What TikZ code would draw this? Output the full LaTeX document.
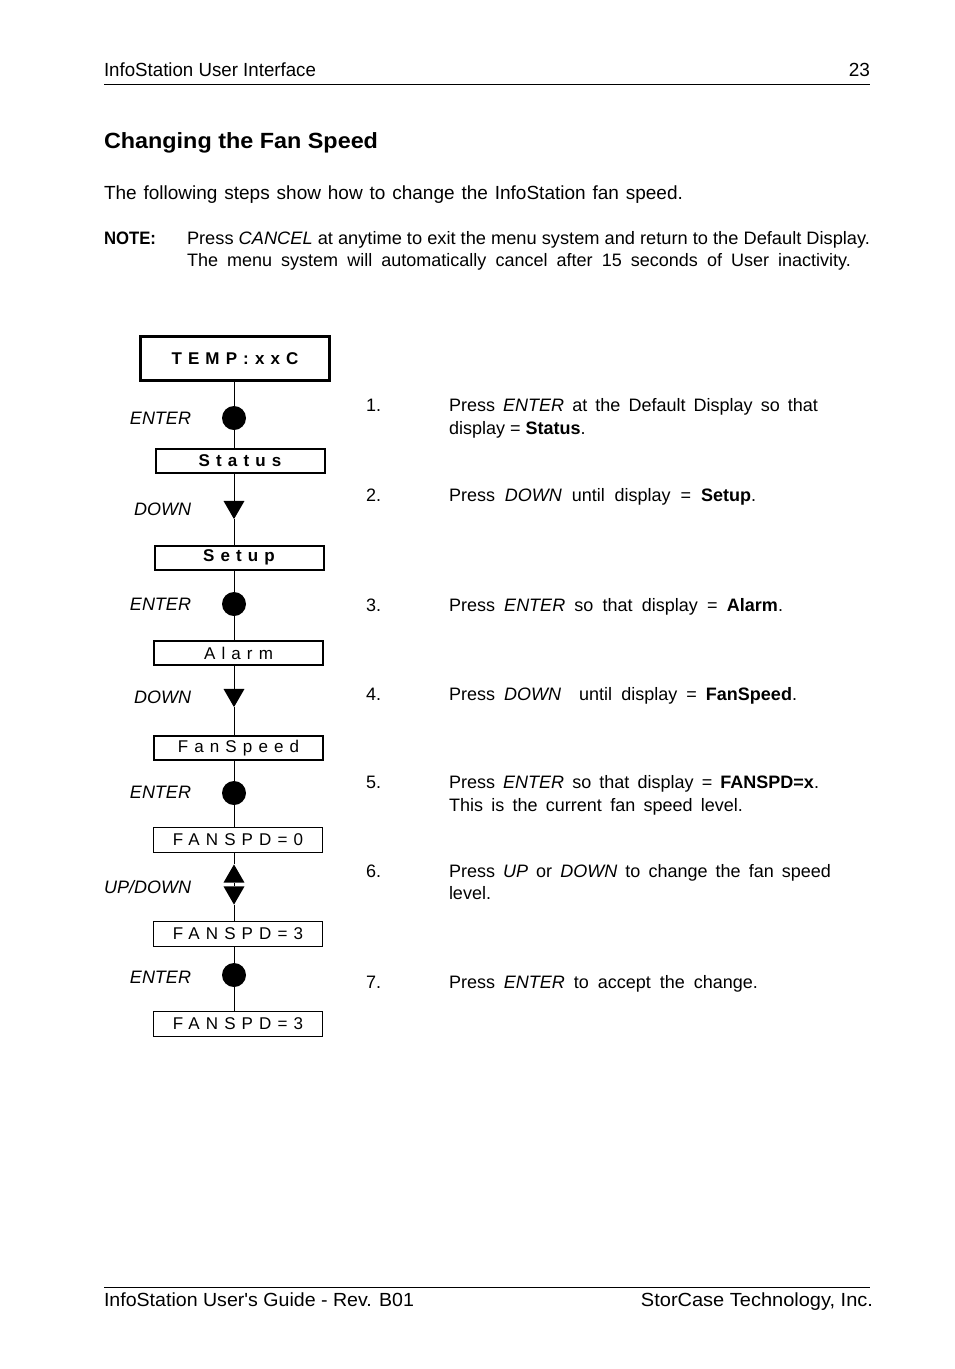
\documentclass[tikz,border=0pt]{standalone}
\usepackage{fontspec}
\setmainfont{Liberation Sans}
\newfontfamily\plainapo{Liberation Sans}
\usetikzlibrary{shapes.geometric}
\pgfdeclarelayer{bg}
\pgfsetlayers{bg,main}
\newcommand\sw[2]{\makebox[#1pt][s]{#2}}
\newcommand\fw[2]{\resizebox{#1pt}{\height}{#2}}
\begin{document}
\begin{tikzpicture}[x=1pt,y=-1pt,
  every node/.style={inner sep=0pt, outer sep=0pt},
  body/.style={anchor=base west, font=\fontsize{18}{22}\selectfont},
  page/.style={anchor=base west, font=\fontsize{19}{22}\selectfont},
  lcd/.style={draw, font=\fontsize{17}{20}\selectfont\addfontfeature{LetterSpace=36}},
  lcdbold/.style={font=\fontsize{17}{20}\selectfont\bfseries\addfontfeature{LetterSpace=36}},
  lcdA/.style={lcd, line width=3pt, minimum height=44pt, minimum width=189pt},
  lcdB/.style={lcd, line width=2pt, minimum height=24pt, minimum width=169pt},
  lcdC/.style={lcd, line width=1pt, minimum height=25pt, minimum width=169pt},
  key/.style={anchor=base east, font=\fontsize{18}{20}\selectfont\itshape},
  press/.style={circle, fill, minimum size=24pt},
  tri/.style={regular polygon, regular polygon sides=3, fill, minimum size=24.2pt},
  down/.style={tri, shape border rotate=180},
  up/.style={tri},
  link/.style={line width=1pt},
  rule/.style={line width=1pt}
]
\useasboundingbox (0,0) rectangle (954,1369);

% header and footer
\node[page] (hdr) at (104,76) {\fw{212}{InfoStation User Interface}};
\node[page, anchor=base east] (pg) at (870,76) {23};
\coordinate (hl) at (104,84);
\coordinate (hr) at (870,84);
\draw[rule] (hl) -- (hr);
\coordinate (fl) at (104,1287);
\coordinate (fr) at (870,1287);
\draw[rule] (fl) -- (fr);
\node[page] (ftl) at (104,1306.5) {\fw{310}{InfoStation User{\plainapo'}s Guide - Rev. B01}};
\node[page, anchor=base east] (ftr) at (873,1306.5) {\fw{232}{StorCase Technology, Inc.}};

% title and intro
\node[body, font=\fontsize{22}{26}\selectfont\bfseries] (title) at (104,148) {\fw{274}{Changing the Fan Speed}};
\node[page] (intro) at (104,199.5) {\sw{579}{The following steps show how to change the InfoStation fan speed.}};
\node[body] (note) at (104,244.5) {\fw{52}{\textbf{NOTE:}}};
\node[body] (n1) at (187,244.5) {\fw{683}{Press \textit{CANCEL} at anytime to exit the menu system and return to the Default Display.}};
\node[body] (n2) at (187,266.5) {\sw{664}{The menu system will automatically cancel after 15 seconds of User inactivity.}};

% display boxes
\node[lcdA, lcdbold] (b0) at (235,358.5) {TEMP:xxC};
\node[lcdB, lcdbold] (b1) at (240,461) {Status};
\node[lcdB, lcdbold] (b2) at (239,557.5) {Setup};
\node[lcdB] (b3) at (238.5,653) {Alarm};
\node[lcdB] (b4) at (238.5,748) {FanSpeed};
\node[lcdC] (b5) at (238,839.5) {FANSPD=0};
\node[lcdC] (b6) at (238,933.5) {FANSPD=3};
\node[lcdC] (b7) at (238,1023.5) {FANSPD=3};

% key markers
\node[press] (k1) at (234,418) {};
\node[down]  (k2) at (234,507) {};
\node[press] (k3) at (234,604) {};
\node[down]  (k4) at (234,695) {};
\node[press] (k5) at (234,793) {};
\node[up]    (k6u) at (234,876.5) {};
\node[down]  (k6d) at (234,892.5) {};
\node[press] (k7) at (234,975) {};

\begin{pgfonlayer}{bg}
\draw[link] (b0.south -| k1) -- (k1) -- (b1.north -| k1);
\draw[link] (b1.south -| k2) -- (k2) -- (b2.north -| k2);
\draw[link] (b2.south -| k3) -- (k3) -- (b3.north -| k3);
\draw[link] (b3.south -| k4) -- (k4) -- (b4.north -| k4);
\draw[link] (b4.south -| k5) -- (k5) -- (b5.north -| k5);
\draw[link] (b5.south -| k6u) -- (k6u) -- (k6d) -- (b6.north -| k6d);
\draw[link] (b6.south -| k7) -- (k7) -- (b7.north -| k7);
\end{pgfonlayer}

% key labels
\node[key] (l1) at (191,424.5) {ENTER};
\node[key] (l2) at (191,515.5) {DOWN};
\node[key] (l3) at (191,610.5) {ENTER};
\node[key] (l4) at (191,703.5) {DOWN};
\node[key] (l5) at (191,798.5) {ENTER};
\node[key] (l6) at (191,893.5) {UP/DOWN};
\node[key] (l7) at (191,983.5) {ENTER};

% step numbers
\node[body] (s1) at (366,411.5) {1.};
\node[body] (s2) at (366,501.5) {2.};
\node[body] (s3) at (366,611.5) {3.};
\node[body] (s4) at (366,700.5) {4.};
\node[body] (s5) at (366,788.5) {5.};
\node[body] (s6) at (366,877.5) {6.};
\node[body] (s7) at (366,988.5) {7.};

% step texts
\node[body] (t1a) at (449,411.5) {\sw{369}{Press \textit{ENTER} at the Default Display so that}};
\node[body] (t1b) at (449,434.5) {display = \textbf{Status}.};
\node[body] (t2) at (449,501.5) {\sw{307}{Press \textit{DOWN} until display = \textbf{Setup}.}};
\node[body] (t3) at (449,611.5) {\sw{334}{Press \textit{ENTER} so that display = \textbf{Alarm}.}};
\node[body] (t4) at (449,700.5) {\sw{348}{Press \textit{DOWN} \ until display = \textbf{FanSpeed}.}};
\node[body] (t5a) at (449,788.5) {\sw{370}{Press \textit{ENTER} so that display = \textbf{FANSPD=x}.}};
\node[body] (t5b) at (449,811.5) {\sw{294}{This is the current fan speed level.}};
\node[body] (t6a) at (449,877.5) {\sw{382}{Press \textit{UP} or \textit{DOWN} to change the fan speed}};
\node[body] (t6b) at (449,899.5) {level.};
\node[body] (t7) at (449,988.5) {\sw{309}{Press \textit{ENTER} to accept the change.}};
\end{tikzpicture}
\end{document}
